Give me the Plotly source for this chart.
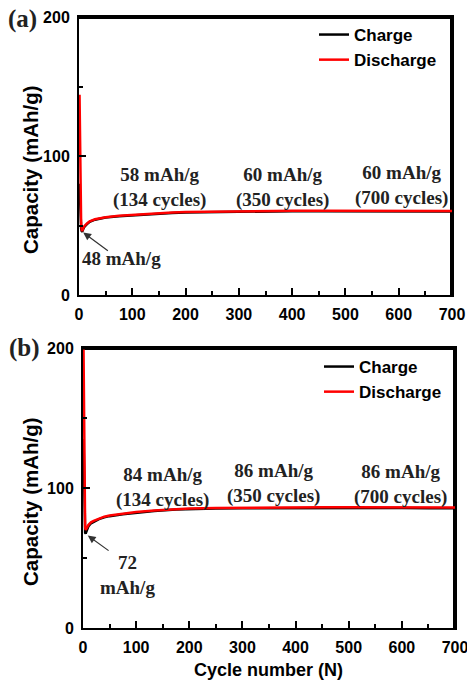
import plotly.graph_objects as go

W, H = 467, 688

cycles_a = [1, 2, 3, 4, 5, 6, 8, 10, 15, 20, 30, 40, 50, 75, 100, 134, 175, 200,
            250, 300, 350, 400, 450, 500, 550, 600, 650, 700]
discharge_a = [144, 100, 68, 52, 47, 46, 48, 49.5, 51.5, 53, 54.5, 55.5, 56, 57, 57.7,
               58.5, 59.3, 59.7, 60, 60.3, 60.5, 60.6, 60.6, 60.6, 60.6, 60.6, 60.6, 60.5]
charge_a = [80, 62, 52, 48, 46, 45.5, 47.5, 49, 51, 52.7, 54.2, 55.2, 55.7, 56.7, 57.4,
            58.2, 59, 59.4, 59.7, 60, 60.2, 60.3, 60.3, 60.3, 60.2, 60.2, 60.2, 60.1]

cycles_b = [1, 2, 3, 4, 5, 6, 8, 10, 15, 20, 30, 40, 50, 75, 100, 134, 175, 200,
            250, 300, 350, 400, 450, 500, 550, 600, 650, 700]
discharge_b = [199, 130, 85, 72, 70, 70.5, 72, 73.5, 75.5, 76.5, 78.2, 79.5, 80.3, 81.7,
               82.8, 84, 85, 85.4, 85.8, 86, 86.1, 86.2, 86.2, 86.2, 86.1, 86.1, 86, 86]
charge_b = [135, 95, 75, 68, 67.5, 68.5, 70.5, 72.5, 74.8, 76, 77.8, 79, 79.9, 81.3,
            82.4, 83.6, 84.6, 85, 85.4, 85.6, 85.7, 85.8, 85.8, 85.8, 85.7, 85.7, 85.6, 85.6]

x_ticks = [0, 100, 200, 300, 400, 500, 600, 700]
y_ticks = [0, 100, 200]
x_range = [0, 700]
y_range = [0, 200]

SANS = "Liberation Sans"
SERIF = "Liberation Serif"

fig = go.Figure()

# plot frame (top and right edges) following the axis ranges
for xa_, ya_ in [("x", "y"), ("x2", "y2")]:
    fig.add_trace(go.Scatter(x=[x_range[0], x_range[1], x_range[1]],
                             y=[y_range[1], y_range[1], y_range[0]],
                             mode="lines", line=dict(color="black", width=4),
                             showlegend=False, hoverinfo="skip", xaxis=xa_, yaxis=ya_))

fig.add_trace(go.Scatter(x=cycles_a, y=charge_a, mode="lines", name="Charge",
                         line=dict(color="black", width=2.5), xaxis="x", yaxis="y", legend="legend"))
fig.add_trace(go.Scatter(x=cycles_a, y=discharge_a, mode="lines", name="Discharge",
                         line=dict(color="#ff0000", width=2.5), xaxis="x", yaxis="y", legend="legend"))
fig.add_trace(go.Scatter(x=cycles_b, y=charge_b, mode="lines", name="Charge",
                         line=dict(color="black", width=2.5), xaxis="x2", yaxis="y2", legend="legend2"))
fig.add_trace(go.Scatter(x=cycles_b, y=discharge_b, mode="lines", name="Discharge",
                         line=dict(color="#ff0000", width=2.5), xaxis="x2", yaxis="y2", legend="legend2"))

def px_x(p):
    return p / W

def px_y(p):
    return 1 - p / H

tickfont = dict(family=SANS, size=16, color="black", weight="bold")

def xaxis(domain, anchor):
    return dict(domain=domain, anchor=anchor, range=x_range, tickvals=x_ticks,
                ticks="inside", ticklen=7, tickwidth=1.5, tickcolor="black",
                minor=dict(dtick=50, tick0=0, ticks="inside", ticklen=4, tickwidth=1.5, tickcolor="black"),
                showline=True, linewidth=2, linecolor="black", mirror=True,
                showgrid=False, zeroline=False, tickfont=tickfont, ticklabelstandoff=4,
                ticklabeloverflow="allow", automargin=False)

def yaxis(domain, anchor):
    return dict(domain=domain, anchor=anchor, range=y_range, tickvals=y_ticks,
                ticks="inside", ticklen=7, tickwidth=1.5, tickcolor="black",
                minor=dict(dtick=50, tick0=0, ticks="inside", ticklen=4, tickwidth=1.5, tickcolor="black"),
                showline=True, linewidth=2, linecolor="black", mirror=True,
                showgrid=False, zeroline=False, tickfont=tickfont, ticklabelstandoff=4,
                automargin=False)

legfont = dict(family=SANS, size=17, color="black", weight="bold")

XA = [79, 452]
YA = [295, 17]
XB = [83, 455]
YB = [628, 348]

fig.update_layout(
    width=W, height=H, margin=dict(l=0, r=0, t=0, b=0, pad=0, autoexpand=False),
    paper_bgcolor="white", plot_bgcolor="white",
    xaxis=xaxis([px_x(XA[0]), px_x(XA[1])], "y"),
    yaxis=yaxis([px_y(YA[0]), px_y(YA[1])], "x"),
    xaxis2=xaxis([px_x(XB[0]), px_x(XB[1])], "y2"),
    yaxis2=yaxis([px_y(YB[0]), px_y(YB[1])], "x2"),
    legend=dict(x=px_x(314), y=px_y(17), xanchor="left", yanchor="top",
                font=legfont, bgcolor="rgba(0,0,0,0)", borderwidth=0),
    legend2=dict(x=px_x(319), y=px_y(349), xanchor="left", yanchor="top",
                 font=legfont, bgcolor="rgba(0,0,0,0)", borderwidth=0),
    showlegend=True,
)

annfont = dict(family=SERIF, size=19, color="#222222", weight="bold")
ann = []

def add_text(txt, x, y, xref, yref, font, angle=0):
    ann.append(dict(text=txt, x=x, y=y, xref=xref, yref=yref, showarrow=False, font=font,
                    xanchor="center", yanchor="middle", textangle=angle))

panelfont = dict(family=SERIF, size=25, color="#222222", weight="bold")
add_text("(a)", px_x(22), px_y(19), "paper", "paper", panelfont)
add_text("(b)", px_x(24), px_y(348), "paper", "paper", panelfont)

titlefont = dict(family=SANS, size=20.5, color="black", weight="bold")
add_text("Capacity (mAh/g)", px_x(30), px_y(170), "paper", "paper", titlefont, -90)
add_text("Capacity (mAh/g)", px_x(30), px_y(502), "paper", "paper", titlefont, -90)
add_text("Cycle number (N)", px_x(268), px_y(670), "paper", "paper",
         dict(family=SANS, size=18, color="black", weight="bold"))

# panel a value labels
for txt, cx, cy in [("58 mAh/g<br>(134 cycles)", 152, 77.5),
                    ("60 mAh/g<br>(350 cycles)", 381, 77.5),
                    ("60 mAh/g<br>(700 cycles)", 606, 79)]:
    add_text(txt, cx, cy, "x", "y", annfont)
add_text("48 mAh/g", 79, 26.5, "x", "y", annfont)
ann.append(dict(text="", x=8, y=45, ax=57, ay=31, xref="x", yref="y", axref="x", ayref="y",
                showarrow=True, arrowhead=2, arrowsize=1.3, arrowwidth=1.2, arrowcolor="#333333"))

# panel b value labels
for txt, cx, cy in [("84 mAh/g<br>(134 cycles)", 149, 100.5),
                    ("86 mAh/g<br>(350 cycles)", 359, 103.5),
                    ("86 mAh/g<br>(700 cycles)", 598, 102.5)]:
    add_text(txt, cx, cy, "x2", "y2", annfont)
add_text("72<br>mAh/g", 84, 38, "x2", "y2", annfont)
ann.append(dict(text="", x=9, y=66, ax=51, ay=54.5, xref="x2", yref="y2", axref="x2", ayref="y2",
                showarrow=True, arrowhead=2, arrowsize=1.3, arrowwidth=1.2, arrowcolor="#333333"))

fig.update_layout(annotations=ann)

fig.write_html("out.html")
